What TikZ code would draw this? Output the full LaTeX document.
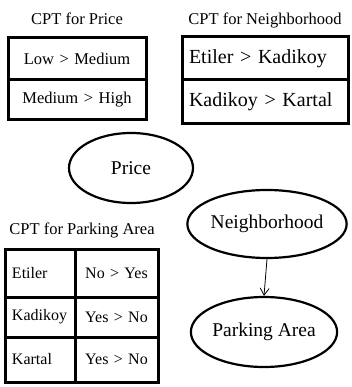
\documentclass[tikz,border=0pt]{standalone}
\usepackage{fontspec}
\setmainfont{Liberation Serif}
\usepackage{tikz}
\usetikzlibrary{arrows.meta, positioning, shapes.geometric}

\begin{document}
\begin{tikzpicture}[x=1pt, y=-1pt, >={Straight Barb[length=7pt, width=9pt]},
    title/.style={font=\fontsize{16.5}{18}\selectfont},
    cell/.style={draw, line width=3pt, outer sep=0pt, inner xsep=7pt, inner ysep=0pt},
    pcell/.style={cell, text width=124pt, align=center, font=\fontsize{16.5}{18}\selectfont},
    ncell/.style={cell, text width=152pt, align=left, font=\fontsize{20}{22}\selectfont},
    acell/.style={cell, text width=56pt, align=left, font=\fontsize{16}{18}\selectfont},
    bcell/.style={cell, text width=69pt, align=center, font=\fontsize{16}{18}\selectfont},
    var/.style={ellipse, draw, line width=2.2pt, inner sep=0pt, font=\fontsize{19.5}{21}\selectfont}]
  \useasboundingbox (0,0) rectangle (352,387);

  % CPT for Price
  \node[title] (tPrice) at (77,19) {CPT for Price};
  \node[pcell, minimum height=42pt, anchor=north west] (pLow) at (8,38) {Low > Medium};
  \node[pcell, minimum height=40pt, below=0pt of pLow] (pMed) {Medium > High};

  % CPT for Neighborhood
  \node[title] (tNbh) at (265,20) {CPT for Neighborhood};
  \node[ncell, minimum height=43pt, anchor=north west] (nEti) at (182,37) {Etiler > Kadikoy};
  \node[ncell, minimum height=44pt, below=0pt of nEti] (nKad) {Kadikoy > Kartal};

  % CPT for Parking Area
  \node[title] (tPark) at (82,230) {CPT for Parking Area};
  \node[acell, minimum height=48pt, anchor=north west] (aEti) at (5,249) {Etiler};
  \node[acell, minimum height=40pt, below=0pt of aEti] (aKad) {Kadikoy};
  \node[acell, minimum height=45pt, below=0pt of aKad] (aKar) {Kartal};
  \node[bcell, minimum height=48pt, right=0pt of aEti] (bEti) {No > Yes};
  \node[bcell, minimum height=40pt, right=0pt of aKad] (bKad) {Yes > No};
  \node[bcell, minimum height=45pt, right=0pt of aKar] (bKar) {Yes > No};

  % variables
  \node[var, minimum width=124pt, minimum height=70pt] (price) at (131,168) {Price};
  \node[var, minimum width=122pt, minimum height=68pt] (nbh) at (267,224) {Neighborhood};
  \node[var, minimum width=121pt, minimum height=70pt] (park) at (264,332) {Parking Area};

  \draw[->, line width=0.8pt] (nbh.south) -- (park.north);
\end{tikzpicture}
\end{document}
